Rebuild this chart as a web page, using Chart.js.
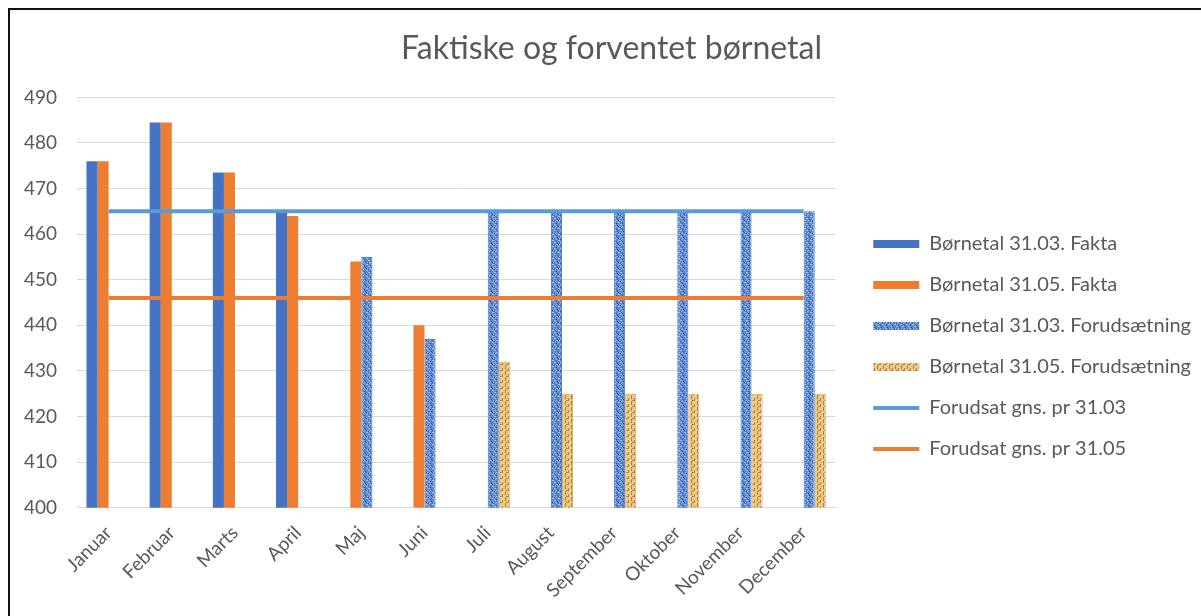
<!DOCTYPE html>
<html>
<head>
    <script src="https://cdn.jsdelivr.net/npm/chart.js@4.4.0/dist/chart.umd.min.js"></script>
    <style>
        body { margin: 0; background: #fff; }
        #wrap { position: relative; width: 1201px; height: 616px; }
        #frame { position: absolute; left: 8px; top: 8px; right: 0; bottom: 0;
                 border-left: 2px solid #111; border-top: 2px solid #111; pointer-events: none; }
    </style>
</head>
<body>
<div id="wrap">
    <canvas id="myChart" width="1201" height="616"></canvas>
    <div id="frame"></div>
</div>

<script>
    const months = ["Januar", "Februar", "Marts", "April", "Maj", "Juni", "Juli", "August", "September", "Oktober", "November", "December"];
    const fakta3103 = [476, 484.5, 473.5, 465, null, null, null, null, null, null, null, null];
    const fakta3105 = [476, 484.5, 473.5, 464, 454, 440, null, null, null, null, null, null];
    const foruds3103 = [null, null, null, null, 455, 437, 465, 465, 465, 465, 465, 465];
    const foruds3105 = [null, null, null, null, null, null, 432, 425, 425, 425, 425, 425];
    const gns3103 = [465, 465, 465, 465, 465, 465, 465, 465, 465, 465, 465, 465];
    const gns3105 = [446, 446, 446, 446, 446, 446, 446, 446, 446, 446, 446, 446];
    const yTicks = [400, 410, 420, 430, 440, 450, 460, 470, 480, 490];

    const txt = "#595959";

    // small texture tiles for the "forudsætning" bars
    function makePattern(base, spots) {
        const c = document.createElement("canvas");
        c.width = 6; c.height = 6;
        const g = c.getContext("2d");
        g.fillStyle = base;
        g.fillRect(0, 0, 6, 6);
        spots.forEach(s => { g.fillStyle = s[2]; g.fillRect(s[0], s[1], 1, 1); });
        return g.createPattern(c, "repeat");
    }
    const lb = "#a8c3ee", db = "#2d4f9a";
    const bluePattern = makePattern("#5b87d2", [
        [0,0,lb],[1,0,lb],[4,1,db],[2,2,lb],[3,2,lb],[5,3,db],[0,4,db],[1,4,lb],[4,4,lb],[2,5,db],[3,5,lb]
    ]);
    const dt = "#b3873a", lt = "#f7dca8";
    const tanPattern = makePattern("#ecc583", [
        [1,0,dt],[1,1,dt],[4,1,lt],[1,2,dt],[4,2,dt],[4,3,dt],[0,4,lt],[2,4,dt],[3,4,dt],[4,4,dt],[1,5,dt],[5,5,lt]
    ]);

    const myChart = new Chart("myChart", {
        data: {
            labels: months,
            datasets: [
                { type: "bar", label: "Børnetal 31.03. Fakta", data: fakta3103, backgroundColor: "#4472C4", order: 1 },
                { type: "bar", label: "Børnetal 31.05. Fakta", data: fakta3105, backgroundColor: "#ED7D31", order: 1 },
                { type: "bar", label: "Børnetal 31.03. Forudsætning", data: foruds3103, backgroundColor: bluePattern,
                  borderColor: "#4a78c8", borderWidth: 1, order: 1 },
                { type: "bar", label: "Børnetal 31.05. Forudsætning", data: foruds3105, backgroundColor: tanPattern,
                  borderColor: "#d9ad62", borderWidth: 1, order: 1 },
                { type: "line", label: "Forudsat gns. pr 31.03", data: gns3103, borderColor: "#5B9BD5",
                  backgroundColor: "#5B9BD5", borderWidth: 4, pointRadius: 0, order: 0 },
                { type: "line", label: "Forudsat gns. pr 31.05", data: gns3105, borderColor: "#ED7D31",
                  backgroundColor: "#ED7D31", borderWidth: 4, pointRadius: 0, order: 0 }
            ]
        },
        options: {
            responsive: false,
            animation: false,
            datasets: { bar: { categoryPercentage: 0.7, barPercentage: 1.0 } },
            layout: { padding: { left: 22, top: 16, right: 0, bottom: 8 } },
            plugins: {
                title: {
                    display: true,
                    text: "Faktiske og forventet børnetal",
                    color: txt,
                    font: { family: "Lato", size: 32, weight: "normal" },
                    padding: { top: 13, bottom: 30 }
                },
                legend: {
                    position: "right",
                    maxWidth: 420,
                    title: { display: true, text: " ", font: { size: 10 }, padding: { top: 0, bottom: 57 } },
                    labels: {
                        color: txt,
                        font: { family: "Lato", size: 20 },
                        usePointStyle: true,
                        pointStyleWidth: 46,
                        boxHeight: 8,
                        padding: 21,
                        generateLabels: chart => chart.data.datasets.map((ds, i) => ({
                            text: ds.label,
                            fillStyle: ds.backgroundColor,
                            strokeStyle: ds.type === "line" ? ds.borderColor : ds.backgroundColor,
                            lineWidth: ds.type === "line" ? 4 : 0,
                            pointStyle: ds.type === "line" ? "line" : "rect",
                            fontColor: txt,
                            datasetIndex: i
                        }))
                    }
                },
                tooltip: { enabled: false }
            },
            scales: {
                x: {
                    grid: { display: false },
                    border: { color: "#d9d9d9", width: 1 },
                    ticks: { color: txt, font: { family: "Lato", size: 19 }, minRotation: 45, maxRotation: 45, padding: 6 }
                },
                y: {
                    min: 400,
                    max: 490,
                    afterBuildTicks: axis => { axis.ticks = yTicks.map(v => ({ value: v })); },
                    afterFit: s => { s.width = 55; },
                    grid: { color: "#d9d9d9", drawTicks: false },
                    border: { display: false },
                    ticks: { color: txt, font: { family: "Lato", size: 19 }, padding: 20 }
                },
                // empty spacer between plot and legend
                gap: {
                    type: "linear",
                    position: "right",
                    grid: { display: false },
                    border: { display: false },
                    ticks: { display: false },
                    afterFit: s => { s.width = 17; }
                }
            }
        }
    });
</script>
</body>
</html>
